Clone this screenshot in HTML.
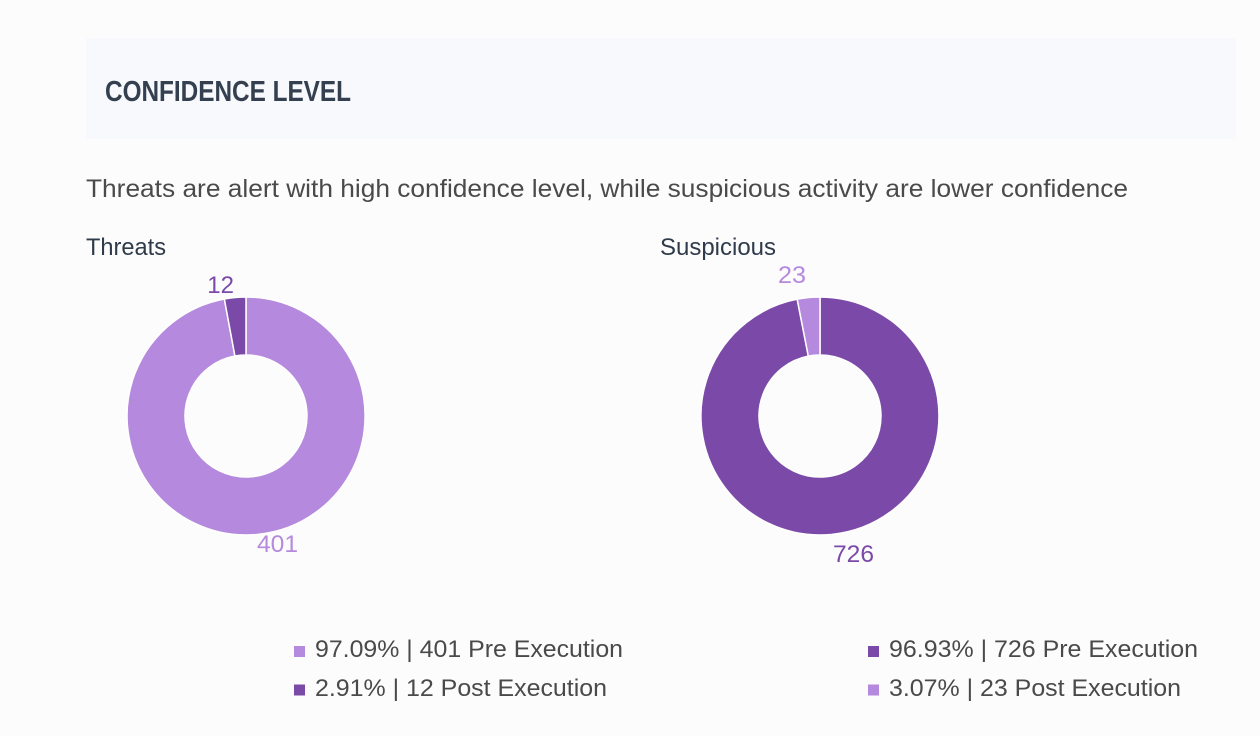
<!DOCTYPE html>
<html>
<head>
<meta charset="utf-8">
<style>
  html, body { margin:0; padding:0; background:#fcfcfd; }
  svg { display:block; }
  text { font-family: "Liberation Sans", "DejaVu Sans", sans-serif; }
</style>
</head>
<body>
<svg width="1260" height="736" viewBox="0 0 1260 736" xmlns="http://www.w3.org/2000/svg">
  <rect x="0" y="0" width="1260" height="736" fill="#fcfcfd"/>
  <!-- header box -->
  <rect x="86" y="38" width="1150" height="101" fill="#f7f9fd"/>
  <text x="105" y="101" font-size="29" font-weight="bold" fill="#34404f" textLength="246" lengthAdjust="spacingAndGlyphs">CONFIDENCE LEVEL</text>

  <!-- subtitle -->
  <text x="86" y="197" font-size="25" fill="#4a4a4a" textLength="1042" lengthAdjust="spacingAndGlyphs">Threats are alert with high confidence level, while suspicious activity are lower confidence</text>

  <!-- chart titles -->
  <text x="86" y="255" font-size="24" fill="#2f3b4a" textLength="80" lengthAdjust="spacingAndGlyphs">Threats</text>
  <text x="660" y="255" font-size="24" fill="#2f3b4a" textLength="116" lengthAdjust="spacingAndGlyphs">Suspicious</text>

  <!-- Threats donut -->
  <path d="M246,297 A119,119 0 1 1 224.35,299.0 L234.90,356.02 A61,61 0 1 0 246,355 Z" fill="#b589dd" stroke="#ffffff" stroke-width="1.5" stroke-linejoin="round"/>
  <path d="M224.35,299.0 A119,119 0 0 1 246,297 L246,355 A61,61 0 0 0 234.90,356.02 Z" fill="#7b4aa8" stroke="#ffffff" stroke-width="1.5" stroke-linejoin="round"/>
  <text x="234" y="293" font-size="24" fill="#7b4aa8" text-anchor="end">12</text>
  <text x="257" y="552" font-size="24" fill="#b589dd" textLength="41" lengthAdjust="spacingAndGlyphs">401</text>

  <!-- Suspicious donut -->
  <path d="M820,297 A119,119 0 1 1 797.19,299.20 L808.31,356.13 A61,61 0 1 0 820,355 Z" fill="#7b4aa8" stroke="#ffffff" stroke-width="1.5" stroke-linejoin="round"/>
  <path d="M797.19,299.20 A119,119 0 0 1 820,297 L820,355 A61,61 0 0 0 808.31,356.13 Z" fill="#b589dd" stroke="#ffffff" stroke-width="1.5" stroke-linejoin="round"/>
  <text x="778" y="283" font-size="24" fill="#b589dd" textLength="28" lengthAdjust="spacingAndGlyphs">23</text>
  <text x="833" y="562" font-size="24" fill="#7b4aa8" textLength="41" lengthAdjust="spacingAndGlyphs">726</text>

  <!-- Legend left -->
  <rect x="294" y="646" width="11" height="11" fill="#b589dd"/>
  <text x="315" y="657" font-size="24" fill="#4a4a4a" textLength="308" lengthAdjust="spacingAndGlyphs">97.09% | 401 Pre Execution</text>
  <rect x="294" y="684.5" width="11" height="11" fill="#7b4aa8"/>
  <text x="315" y="696" font-size="24" fill="#4a4a4a" textLength="292" lengthAdjust="spacingAndGlyphs">2.91% | 12 Post Execution</text>

  <!-- Legend right -->
  <rect x="868" y="646" width="11" height="11" fill="#7b4aa8"/>
  <text x="889" y="657" font-size="24" fill="#4a4a4a" textLength="309" lengthAdjust="spacingAndGlyphs">96.93% | 726 Pre Execution</text>
  <rect x="868" y="684.5" width="11" height="11" fill="#b589dd"/>
  <text x="889" y="696" font-size="24" fill="#4a4a4a" textLength="292" lengthAdjust="spacingAndGlyphs">3.07% | 23 Post Execution</text>
</svg>
</body>
</html>
